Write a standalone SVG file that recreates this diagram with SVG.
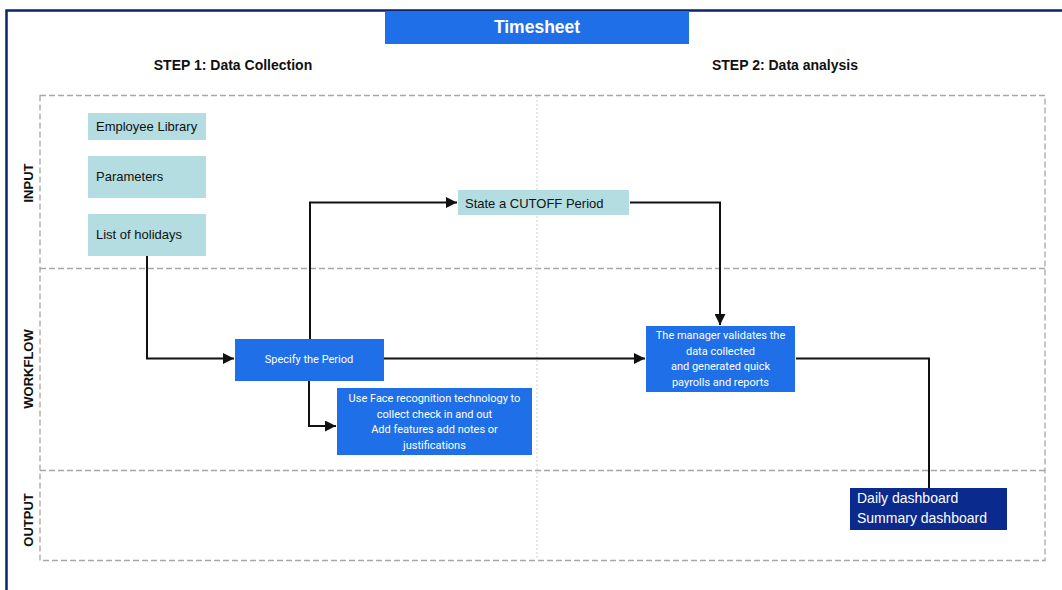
<svg xmlns="http://www.w3.org/2000/svg" width="1062" height="590" viewBox="0 0 1062 590">
  <style>
    .frame { stroke: #0b2566; stroke-width: 2.5; fill: none; }
    .lane { stroke: #a6a6a6; stroke-width: 1.3; stroke-dasharray: 6 3; fill: none; }
    .divider { stroke: #d0d0d0; stroke-width: 1; stroke-dasharray: 2 2; fill: none; }
    .heading { font-family: "Liberation Sans", Arial, sans-serif; font-size: 14px; font-weight: bold; fill: #111; }
    .lanelabel { font-family: "Liberation Sans", Arial, sans-serif; font-size: 13px; font-weight: bold; fill: #111; }
    .pale { fill: #b3dde0; }
    .blue { fill: #1f6fe8; }
    .navy { fill: #0b2a8e; }
    .dark { font-family: "Liberation Sans", Arial, sans-serif; font-size: 13px; fill: #111; }
    .small { font-family: Roboto, "Liberation Sans", sans-serif; font-size: 11px; fill: #fff; text-anchor: middle; }
    .white { font-family: "Liberation Sans", Arial, sans-serif; font-size: 14px; fill: #fff; }
    .conn { stroke: #111; stroke-width: 2; fill: none; }
  </style>
  <defs>
    <marker id="arrowBig" viewBox="0 0 10 10" refX="10" refY="5" markerWidth="12" markerHeight="11" orient="auto" markerUnits="userSpaceOnUse">
      <path d="M0,0 L10,5 L0,10 z" fill="#111"/>
    </marker>
  </defs>

  <rect width="1062" height="590" fill="#fff"/>

  <!-- outer frame (top and left edges) -->
  <path class="frame" d="M6.5,590 V10.5 H1062"/>

  <!-- swimlanes -->
  <g id="lanes">
    <rect class="lane" x="40" y="95.5" width="1005" height="465"/>
    <line class="lane" x1="40" y1="268.5" x2="1045" y2="268.5"/>
    <line class="lane" x1="40" y1="470.5" x2="1045" y2="470.5"/>
    <line class="divider" x1="537" y1="96" x2="537" y2="560"/>
    <text class="lanelabel" transform="translate(33,183) rotate(-90)" text-anchor="middle">INPUT</text>
    <text class="lanelabel" transform="translate(33,369) rotate(-90)" text-anchor="middle">WORKFLOW</text>
    <text class="lanelabel" transform="translate(33,520) rotate(-90)" text-anchor="middle">OUTPUT</text>
  </g>

  <!-- title and step headings -->
  <g id="title">
    <rect class="blue" x="385" y="11" width="304" height="33"/>
    <text x="537" y="33" text-anchor="middle" font-family="'Liberation Sans', Arial, sans-serif" font-size="17.5" font-weight="bold" fill="#fff">Timesheet</text>
  </g>
  <text class="heading" x="233" y="70" text-anchor="middle">STEP 1: Data Collection</text>
  <text class="heading" x="785" y="70" text-anchor="middle">STEP 2: Data analysis</text>

  <!-- connectors -->
  <g id="connectors">
    <path class="conn" d="M147,256 V358.5 H234" marker-end="url(#arrowBig)"/>
    <path class="conn" d="M310,339 V202.5 H457" marker-end="url(#arrowBig)"/>
    <path class="conn" d="M309,381 V426 H336" marker-end="url(#arrowBig)"/>
    <path class="conn" d="M384,358.5 H645" marker-end="url(#arrowBig)"/>
    <path class="conn" d="M630,202.5 H720 V325" marker-end="url(#arrowBig)"/>
    <path class="conn" d="M796,358.5 H929 V488"/>
  </g>

  <!-- input nodes -->
  <g id="employee-library">
    <rect class="pale" x="88" y="113" width="118" height="27"/>
    <text class="dark" x="96" y="131">Employee Library</text>
  </g>
  <g id="parameters">
    <rect class="pale" x="88" y="156" width="118" height="42"/>
    <text class="dark" x="96" y="181">Parameters</text>
  </g>
  <g id="list-of-holidays">
    <rect class="pale" x="88" y="214" width="118" height="42"/>
    <text class="dark" x="96" y="239">List of holidays</text>
  </g>
  <g id="cutoff-period">
    <rect class="pale" x="458" y="190" width="171" height="25"/>
    <text class="dark" x="465" y="207.5" font-size="14">State a CUTOFF Period</text>
  </g>

  <!-- workflow nodes -->
  <g id="specify-period">
    <rect class="blue" x="235" y="339" width="149" height="42"/>
    <text class="small" x="309" y="363">Specify the Period</text>
  </g>
  <g id="face-recognition">
    <rect class="blue" x="337" y="388" width="195" height="67"/>
    <text class="small" x="434.5" y="402">Use Face recognition technology to</text>
    <text class="small" x="434.5" y="417.5">collect check in and out</text>
    <text class="small" x="434.5" y="433">Add features add notes or</text>
    <text class="small" x="434.5" y="448.5">justifications</text>
  </g>
  <g id="manager-validates">
    <rect class="blue" x="646" y="326" width="149" height="66"/>
    <text class="small" x="720.5" y="339">The manager validates the</text>
    <text class="small" x="720.5" y="354.5">data collected</text>
    <text class="small" x="720.5" y="370">and generated quick</text>
    <text class="small" x="720.5" y="385.5">payrolls and reports</text>
  </g>

  <!-- output node -->
  <g id="dashboards">
    <rect class="navy" x="850" y="488" width="157" height="42"/>
    <text class="white" x="857" y="503">Daily dashboard</text>
    <text class="white" x="857" y="523">Summary dashboard</text>
  </g>
</svg>
